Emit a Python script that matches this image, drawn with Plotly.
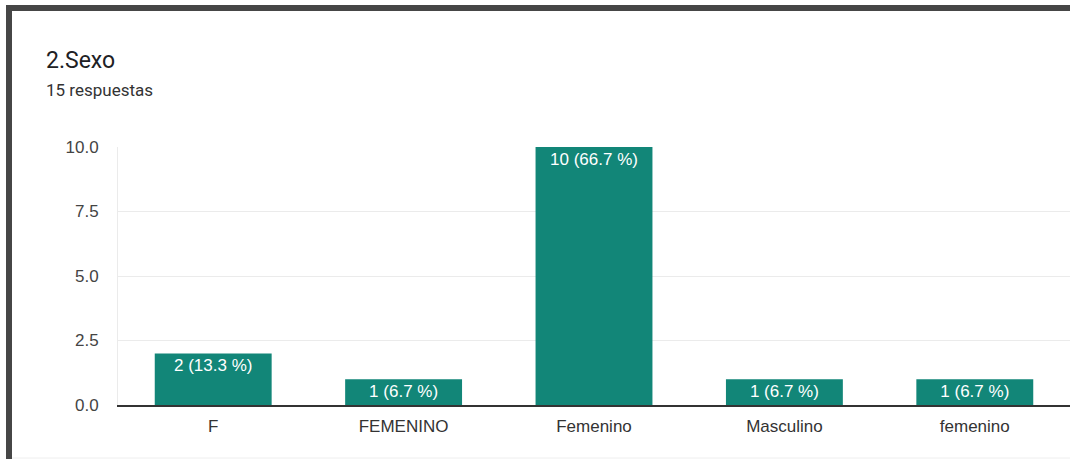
import plotly.graph_objects as go

# Survey answers for question 2 (Sexo)
categories = ["F", "FEMENINO", "Femenino", "Masculino", "femenino"]
counts = [2, 1, 10, 1, 1]
percents = [13.3, 6.7, 66.7, 6.7, 6.7]
y_ticks = [0, 2.5, 5, 7.5, 10]
y_tick_labels = ["0.0", "2.5", "5.0", "7.5", "10.0"]

W, H = 1070, 459
ML, MR, MT, MB = 118, 0, 147, 54
PW, PH = W - ML - MR, H - MT - MB

FONT = "Arial, Liberation Sans, sans-serif"


def px_x(x):
    return (x - ML) / PW


def px_y(y):
    return (H - MB - y) / PH


labels = [f"{c} ({p} %)" for c, p in zip(counts, percents)]

fig = go.Figure(
    go.Bar(
        x=categories,
        y=counts,
        text=labels,
        textposition="inside",
        insidetextanchor="end",
        constraintext="none",
        textfont=dict(family=FONT, size=17, color="#ffffff"),
        marker=dict(color="#128678", line=dict(width=0)),
        hoverinfo="skip",
    )
)

fig.update_layout(
    width=W,
    height=H,
    margin=dict(l=ML, r=MR, t=MT, b=MB, pad=0),
    paper_bgcolor="#ffffff",
    plot_bgcolor="#ffffff",
    bargap=0.386,
    showlegend=False,
    font=dict(family=FONT, size=17, color="#444444"),
)

fig.update_xaxes(
    showgrid=False,
    showline=True,
    linecolor="#333333",
    linewidth=1.5,
    ticks="",
    tickfont=dict(family=FONT, size=17, color="#333333"),
    ticklabelstandoff=5,
    fixedrange=True,
)

fig.update_yaxes(
    range=[0, 10],
    tickvals=y_ticks,
    ticktext=y_tick_labels,
    showgrid=True,
    gridcolor="#ebebeb",
    gridwidth=1,
    zeroline=False,
    showline=True,
    linecolor="#ebebeb",
    linewidth=1,
    ticks="",
    tickfont=dict(family=FONT, size=17, color="#444444"),
    ticklabelstandoff=15,
    fixedrange=True,
)

# Card title and response count
fig.add_annotation(
    x=px_x(44), y=px_y(60), xref="paper", yref="paper",
    xanchor="left", yanchor="middle", showarrow=False,
    text="2.Sexo",
    font=dict(family="Roboto, Arial, sans-serif", size=23, color="#202124"),
)
fig.add_annotation(
    x=px_x(44), y=px_y(90), xref="paper", yref="paper",
    xanchor="left", yanchor="middle", showarrow=False,
    text="15 respuestas",
    font=dict(family="Roboto, Arial, sans-serif", size=17, color="#333333"),
)

# Dark frame on the top and left edges of the card
fig.add_shape(type="rect", xref="paper", yref="paper",
              x0=px_x(6), x1=px_x(12), y0=px_y(H + 5), y1=px_y(5),
              fillcolor="#464646", line=dict(width=0), layer="above")
fig.add_shape(type="rect", xref="paper", yref="paper",
              x0=px_x(6), x1=px_x(W + 5), y0=px_y(11), y1=px_y(5),
              fillcolor="#464646", line=dict(width=0), layer="above")
# Faint bottom edge
fig.add_shape(type="line", xref="paper", yref="paper",
              x0=px_x(12), x1=px_x(W + 5), y0=px_y(458), y1=px_y(458),
              line=dict(color="#eeeeee", width=1), layer="above")

fig.write_html("out.html", config={"displayModeBar": False})
